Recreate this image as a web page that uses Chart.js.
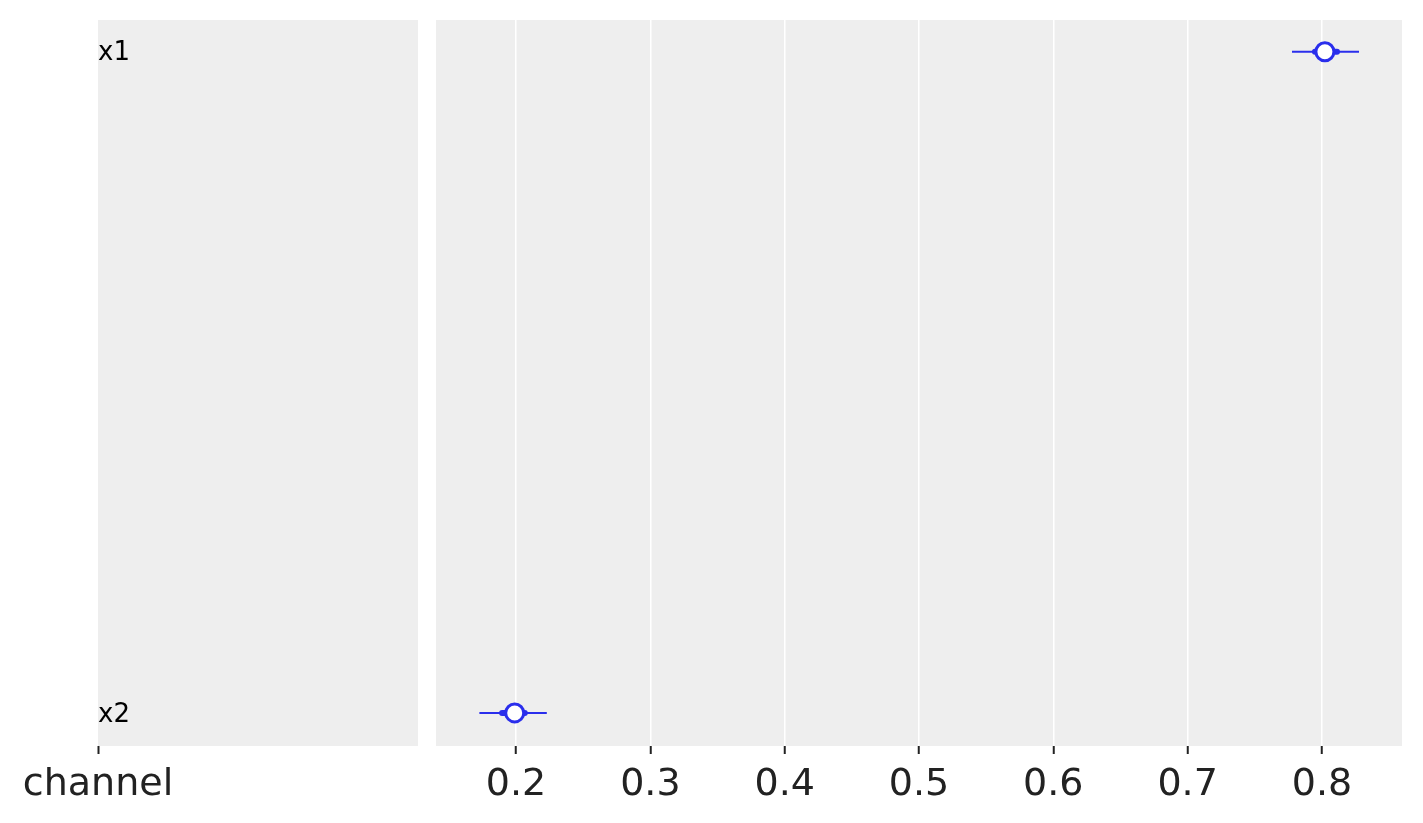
<!DOCTYPE html>
<html>
<head>
<meta charset="utf-8">
<script src="https://cdn.jsdelivr.net/npm/chart.js@4.4.1/dist/chart.umd.min.js"></script>
<style>
  html, body { margin: 0; padding: 0; background: #fff; }
  #wrap { position: relative; width: 1423px; height: 823px; }
  canvas { position: absolute; top: 0; }
  #painelNomes { left: 0; }
  #painelValores { left: 427px; }
</style>
</head>
<body>
<div id="wrap">
  <canvas id="painelNomes" width="427" height="823"></canvas>
  <canvas id="painelValores" width="996" height="823"></canvas>
</div>
<script>
// dados (forest plot)
const variaveis = ["x1", "x2"];
const mediana = [0.8022, 0.1990];
const hdiMin = [0.7777, 0.1727];
const hdiMax = [0.8276, 0.2229];
const quartilMin = [0.7948, 0.1896];
const quartilMax = [0.8112, 0.2065];
const ticksX = [0.2, 0.3, 0.4, 0.5, 0.6, 0.7, 0.8];
const rotuloEixo = "channel";

const AZUL = "#2a2eec";
const FUNDO = "#eeeeee";
const TEXTO = "#222222";
const FONTE = "'DejaVu Sans', sans-serif";

// x1 em cima, x2 embaixo
const posY = variaveis.map((_, i) => variaveis.length - 1 - i);
const yMin = -0.05;
const yMax = 1.048;

const fundoPainel = {
  id: "fundoPainel",
  beforeDraw(chart) {
    const { ctx, chartArea } = chart;
    ctx.save();
    ctx.fillStyle = FUNDO;
    ctx.fillRect(chartArea.left, chartArea.top, chartArea.right - chartArea.left, chartArea.bottom - chartArea.top);
    ctx.restore();
  }
};

// altura fixa do eixo x e sem folga extra para os rótulos
function ajustarEixoX(scale) {
  scale.height = 77;
  scale.paddingLeft = 0;
  scale.paddingRight = 0;
}

// painel da esquerda: nomes das variáveis
new Chart(document.getElementById("painelNomes"), {
  type: "scatter",
  data: { datasets: [] },
  plugins: [fundoPainel],
  options: {
    responsive: false,
    animation: false,
    layout: { autoPadding: false, padding: { left: 98, right: 9, top: 20, bottom: 0 } },
    plugins: { legend: { display: false }, tooltip: { enabled: false } },
    scales: {
      x: {
        type: "linear",
        min: 0,
        max: 1,
        afterBuildTicks: (scale) => { scale.ticks = [{ value: 0 }]; },
        afterFit: ajustarEixoX,
        border: { display: false },
        grid: { drawOnChartArea: false, color: "rgba(0,0,0,0)", tickColor: TEXTO, tickLength: 8, tickWidth: 2 },
        ticks: {
          callback: () => rotuloEixo,
          color: TEXTO,
          padding: 8,
          maxRotation: 0,
          font: { family: FONTE, size: 38 }
        }
      },
      y: {
        type: "linear",
        min: yMin,
        max: yMax,
        afterBuildTicks: (scale) => { scale.ticks = posY.map(v => ({ value: v })); },
        afterFit: (scale) => { scale.width = 0; },
        border: { display: false },
        grid: { display: false },
        ticks: {
          mirror: true,
          padding: 0,
          labelOffset: 2,
          color: "#000",
          font: { family: FONTE, size: 26 },
          callback: (valor) => variaveis[posY.indexOf(valor)]
        }
      }
    }
  }
});

// painel da direita: intervalos e medianas
const linhasFinas = variaveis.map((v, i) => ({
  label: v + " hdi",
  data: [{ x: hdiMin[i], y: posY[i] }, { x: hdiMax[i], y: posY[i] }],
  showLine: true,
  borderColor: AZUL,
  borderWidth: 2,
  pointRadius: 0,
  order: 3
}));

const linhasGrossas = variaveis.map((v, i) => ({
  label: v + " quartil",
  data: [{ x: quartilMin[i], y: posY[i] }, { x: quartilMax[i], y: posY[i] }],
  showLine: true,
  borderColor: AZUL,
  borderWidth: 6,
  borderCapStyle: "round",
  pointRadius: 0,
  order: 2
}));

const pontos = {
  label: "mediana",
  data: variaveis.map((v, i) => ({ x: mediana[i], y: posY[i] })),
  backgroundColor: "#ffffff",
  borderColor: AZUL,
  borderWidth: 3,
  pointRadius: 9,
  order: 1
};

new Chart(document.getElementById("painelValores"), {
  type: "scatter",
  data: { datasets: [...linhasFinas, ...linhasGrossas, pontos] },
  plugins: [fundoPainel],
  options: {
    responsive: false,
    animation: false,
    layout: { autoPadding: false, padding: { left: 9, right: 21, top: 20, bottom: 0 } },
    plugins: { legend: { display: false }, tooltip: { enabled: false } },
    scales: {
      x: {
        type: "linear",
        min: 0.1404,
        max: 0.8596,
        afterBuildTicks: (scale) => { scale.ticks = ticksX.map(v => ({ value: v })); },
        afterFit: ajustarEixoX,
        border: { display: false },
        grid: { color: "#ffffff", lineWidth: 1.5, tickColor: TEXTO, tickLength: 8, tickWidth: 2 },
        ticks: {
          color: TEXTO,
          padding: 8,
          maxRotation: 0,
          font: { family: FONTE, size: 38 },
          callback: (valor) => valor.toFixed(1)
        }
      },
      y: {
        type: "linear",
        display: false,
        min: yMin,
        max: yMax
      }
    }
  }
});
</script>
</body>
</html>
